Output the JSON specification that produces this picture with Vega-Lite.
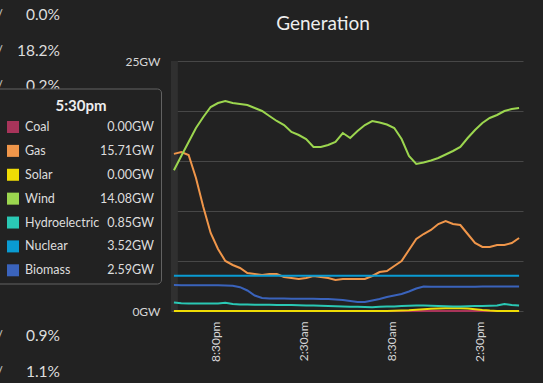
{
  "$schema": "https://vega.github.io/schema/vega-lite/v6.json",
  "width": 352,
  "height": 250,
  "autosize": {"type": "none"},
  "padding": {"left": 171, "top": 61, "right": 20, "bottom": 72},
  "background": "#222222",
  "config": {"view": {"stroke": null}, "font": "Lato", "text": {"font": "Lato"}},
  "datasets": {
    "gen": [
      {"t": "2024-01-01T17:30", "Coal": 0, "Gas": 15.71, "Solar": 0, "Wind": 14.08, "Hydroelectric": 0.85, "Nuclear": 3.52, "Biomass": 2.59},
      {"t": "2024-01-01T18:00", "Coal": 0, "Gas": 15.9, "Solar": 0, "Wind": 15.5, "Hydroelectric": 0.78, "Nuclear": 3.52, "Biomass": 2.58},
      {"t": "2024-01-01T18:30", "Coal": 0, "Gas": 15.6, "Solar": 0, "Wind": 16.9, "Hydroelectric": 0.75, "Nuclear": 3.52, "Biomass": 2.58},
      {"t": "2024-01-01T19:00", "Coal": 0, "Gas": 13.3, "Solar": 0, "Wind": 18.3, "Hydroelectric": 0.75, "Nuclear": 3.52, "Biomass": 2.58},
      {"t": "2024-01-01T19:30", "Coal": 0, "Gas": 10.4, "Solar": 0, "Wind": 19.4, "Hydroelectric": 0.75, "Nuclear": 3.52, "Biomass": 2.58},
      {"t": "2024-01-01T20:00", "Coal": 0, "Gas": 7.8, "Solar": 0, "Wind": 20.4, "Hydroelectric": 0.75, "Nuclear": 3.52, "Biomass": 2.57},
      {"t": "2024-01-01T20:30", "Coal": 0, "Gas": 6.2, "Solar": 0, "Wind": 20.8, "Hydroelectric": 0.76, "Nuclear": 3.52, "Biomass": 2.57},
      {"t": "2024-01-01T21:00", "Coal": 0, "Gas": 5.0, "Solar": 0, "Wind": 21.0, "Hydroelectric": 0.83, "Nuclear": 3.52, "Biomass": 2.56},
      {"t": "2024-01-01T21:30", "Coal": 0, "Gas": 4.6, "Solar": 0, "Wind": 20.8, "Hydroelectric": 0.7, "Nuclear": 3.52, "Biomass": 2.53},
      {"t": "2024-01-01T22:00", "Coal": 0, "Gas": 4.3, "Solar": 0, "Wind": 20.7, "Hydroelectric": 0.65, "Nuclear": 3.52, "Biomass": 2.38},
      {"t": "2024-01-01T22:30", "Coal": 0, "Gas": 3.8, "Solar": 0, "Wind": 20.6, "Hydroelectric": 0.65, "Nuclear": 3.52, "Biomass": 2.05},
      {"t": "2024-01-01T23:00", "Coal": 0, "Gas": 3.7, "Solar": 0, "Wind": 20.3, "Hydroelectric": 0.63, "Nuclear": 3.52, "Biomass": 1.55},
      {"t": "2024-01-01T23:30", "Coal": 0, "Gas": 3.6, "Solar": 0, "Wind": 20.0, "Hydroelectric": 0.62, "Nuclear": 3.52, "Biomass": 1.3},
      {"t": "2024-01-02T00:00", "Coal": 0, "Gas": 3.7, "Solar": 0, "Wind": 19.5, "Hydroelectric": 0.62, "Nuclear": 3.52, "Biomass": 1.25},
      {"t": "2024-01-02T00:30", "Coal": 0, "Gas": 3.7, "Solar": 0, "Wind": 19.0, "Hydroelectric": 0.6, "Nuclear": 3.52, "Biomass": 1.24},
      {"t": "2024-01-02T01:00", "Coal": 0, "Gas": 3.4, "Solar": 0, "Wind": 18.6, "Hydroelectric": 0.6, "Nuclear": 3.52, "Biomass": 1.24},
      {"t": "2024-01-02T01:30", "Coal": 0, "Gas": 3.3, "Solar": 0, "Wind": 17.9, "Hydroelectric": 0.6, "Nuclear": 3.52, "Biomass": 1.23},
      {"t": "2024-01-02T02:00", "Coal": 0, "Gas": 3.2, "Solar": 0, "Wind": 17.6, "Hydroelectric": 0.58, "Nuclear": 3.52, "Biomass": 1.23},
      {"t": "2024-01-02T02:30", "Coal": 0, "Gas": 3.3, "Solar": 0, "Wind": 17.2, "Hydroelectric": 0.55, "Nuclear": 3.52, "Biomass": 1.22},
      {"t": "2024-01-02T03:00", "Coal": 0, "Gas": 3.5, "Solar": 0, "Wind": 16.4, "Hydroelectric": 0.55, "Nuclear": 3.52, "Biomass": 1.22},
      {"t": "2024-01-02T03:30", "Coal": 0, "Gas": 3.4, "Solar": 0, "Wind": 16.4, "Hydroelectric": 0.52, "Nuclear": 3.52, "Biomass": 1.21},
      {"t": "2024-01-02T04:00", "Coal": 0, "Gas": 3.3, "Solar": 0, "Wind": 16.6, "Hydroelectric": 0.5, "Nuclear": 3.52, "Biomass": 1.2},
      {"t": "2024-01-02T04:30", "Coal": 0, "Gas": 3.1, "Solar": 0, "Wind": 16.9, "Hydroelectric": 0.48, "Nuclear": 3.52, "Biomass": 1.15},
      {"t": "2024-01-02T05:00", "Coal": 0, "Gas": 3.2, "Solar": 0, "Wind": 17.8, "Hydroelectric": 0.45, "Nuclear": 3.52, "Biomass": 1.1},
      {"t": "2024-01-02T05:30", "Coal": 0, "Gas": 3.2, "Solar": 0, "Wind": 17.3, "Hydroelectric": 0.43, "Nuclear": 3.52, "Biomass": 1.0},
      {"t": "2024-01-02T06:00", "Coal": 0, "Gas": 3.2, "Solar": 0, "Wind": 18.0, "Hydroelectric": 0.42, "Nuclear": 3.52, "Biomass": 0.9},
      {"t": "2024-01-02T06:30", "Coal": 0, "Gas": 3.2, "Solar": 0, "Wind": 18.6, "Hydroelectric": 0.4, "Nuclear": 3.52, "Biomass": 0.9},
      {"t": "2024-01-02T07:00", "Coal": 0, "Gas": 3.5, "Solar": 0, "Wind": 19.0, "Hydroelectric": 0.38, "Nuclear": 3.52, "Biomass": 1.05},
      {"t": "2024-01-02T07:30", "Coal": 0, "Gas": 3.9, "Solar": 0, "Wind": 18.85, "Hydroelectric": 0.42, "Nuclear": 3.52, "Biomass": 1.2},
      {"t": "2024-01-02T08:00", "Coal": 0, "Gas": 4.0, "Solar": 0, "Wind": 18.65, "Hydroelectric": 0.45, "Nuclear": 3.52, "Biomass": 1.4},
      {"t": "2024-01-02T08:30", "Coal": 0, "Gas": 4.5, "Solar": 0.02, "Wind": 18.3, "Hydroelectric": 0.45, "Nuclear": 3.52, "Biomass": 1.55},
      {"t": "2024-01-02T09:00", "Coal": 0, "Gas": 5.0, "Solar": 0.05, "Wind": 17.2, "Hydroelectric": 0.5, "Nuclear": 3.52, "Biomass": 1.7},
      {"t": "2024-01-02T09:30", "Coal": 0, "Gas": 6.1, "Solar": 0.08, "Wind": 15.5, "Hydroelectric": 0.52, "Nuclear": 3.52, "Biomass": 1.95},
      {"t": "2024-01-02T10:00", "Coal": 0, "Gas": 7.2, "Solar": 0.13, "Wind": 14.7, "Hydroelectric": 0.55, "Nuclear": 3.52, "Biomass": 2.25},
      {"t": "2024-01-02T10:30", "Coal": 0, "Gas": 7.7, "Solar": 0.18, "Wind": 14.85, "Hydroelectric": 0.55, "Nuclear": 3.52, "Biomass": 2.45},
      {"t": "2024-01-02T11:00", "Coal": 0, "Gas": 8.1, "Solar": 0.22, "Wind": 15.05, "Hydroelectric": 0.52, "Nuclear": 3.52, "Biomass": 2.42},
      {"t": "2024-01-02T11:30", "Coal": 0, "Gas": 8.7, "Solar": 0.25, "Wind": 15.3, "Hydroelectric": 0.5, "Nuclear": 3.52, "Biomass": 2.42},
      {"t": "2024-01-02T12:00", "Coal": 0, "Gas": 9.0, "Solar": 0.27, "Wind": 15.65, "Hydroelectric": 0.48, "Nuclear": 3.52, "Biomass": 2.42},
      {"t": "2024-01-02T12:30", "Coal": 0, "Gas": 8.7, "Solar": 0.28, "Wind": 16.0, "Hydroelectric": 0.45, "Nuclear": 3.52, "Biomass": 2.42},
      {"t": "2024-01-02T13:00", "Coal": 0, "Gas": 8.6, "Solar": 0.27, "Wind": 16.4, "Hydroelectric": 0.45, "Nuclear": 3.52, "Biomass": 2.42},
      {"t": "2024-01-02T13:30", "Coal": 0, "Gas": 7.7, "Solar": 0.24, "Wind": 17.3, "Hydroelectric": 0.48, "Nuclear": 3.52, "Biomass": 2.42},
      {"t": "2024-01-02T14:00", "Coal": 0, "Gas": 6.8, "Solar": 0.18, "Wind": 18.1, "Hydroelectric": 0.5, "Nuclear": 3.52, "Biomass": 2.42},
      {"t": "2024-01-02T14:30", "Coal": 0, "Gas": 6.4, "Solar": 0.1, "Wind": 18.8, "Hydroelectric": 0.5, "Nuclear": 3.52, "Biomass": 2.45},
      {"t": "2024-01-02T15:00", "Coal": 0, "Gas": 6.4, "Solar": 0.04, "Wind": 19.3, "Hydroelectric": 0.52, "Nuclear": 3.52, "Biomass": 2.45},
      {"t": "2024-01-02T15:30", "Coal": 0, "Gas": 6.6, "Solar": 0.01, "Wind": 19.6, "Hydroelectric": 0.55, "Nuclear": 3.52, "Biomass": 2.45},
      {"t": "2024-01-02T16:00", "Coal": 0, "Gas": 6.6, "Solar": 0, "Wind": 20.0, "Hydroelectric": 0.7, "Nuclear": 3.52, "Biomass": 2.45},
      {"t": "2024-01-02T16:30", "Coal": 0, "Gas": 6.8, "Solar": 0, "Wind": 20.2, "Hydroelectric": 0.6, "Nuclear": 3.52, "Biomass": 2.45},
      {"t": "2024-01-02T17:00", "Coal": 0, "Gas": 7.3, "Solar": 0, "Wind": 20.3, "Hydroelectric": 0.55, "Nuclear": 3.52, "Biomass": 2.45}
    ],
    "tip": [
      {"source": "Coal", "row": 0, "val": "0.00GW"},
      {"source": "Gas", "row": 1, "val": "15.71GW"},
      {"source": "Solar", "row": 2, "val": "0.00GW"},
      {"source": "Wind", "row": 3, "val": "14.08GW"},
      {"source": "Hydroelectric", "row": 4, "val": "0.85GW"},
      {"source": "Nuclear", "row": 5, "val": "3.52GW"},
      {"source": "Biomass", "row": 6, "val": "2.59GW"}
    ],
    "pct": [
      {"row": 0, "pct": "0.0%"},
      {"row": 1, "pct": "18.2%"},
      {"row": 2, "pct": "0.2%"},
      {"row": 9, "pct": "0.9%"},
      {"row": 10, "pct": "1.1%"}
    ]
  },
  "layer": [
    {
      "layer": [
        {
          "data": {"values": [{}]},
          "mark": {"type": "rect", "color": "#303030"},
          "encoding": {
            "x": {"datum": {"year": 2024, "month": 1, "date": 1, "hours": 17, "minutes": 18}, "type": "temporal",
              "scale": {"domain": [{"year": 2024, "month": 1, "date": 1, "hours": 17, "minutes": 18}, {"year": 2024, "month": 1, "date": 2, "hours": 17, "minutes": 16}], "nice": false},
              "axis": {"values": [{"year": 2024, "month": 1, "date": 1, "hours": 20, "minutes": 30}, {"year": 2024, "month": 1, "date": 2, "hours": 2, "minutes": 30}, {"year": 2024, "month": 1, "date": 2, "hours": 8, "minutes": 30}, {"year": 2024, "month": 1, "date": 2, "hours": 14, "minutes": 30}], "labelExpr": "lower(timeFormat(datum.value, '%-I:%M%p'))", "labelAngle": -90, "labelFontSize": 12, "labelColor": "#d6d6d6", "labelFont": "Lato", "labelPadding": 10, "labelOffset": -2.5, "ticks": false, "tickSize": 0, "domain": false, "grid": false, "title": null}},
            "x2": {"datum": {"year": 2024, "month": 1, "date": 1, "hours": 17, "minutes": 46}}
          }
        },
        {
          "data": {"name": "gen"},
          "transform": [{"fold": ["Coal", "Gas", "Solar", "Wind", "Hydroelectric", "Nuclear", "Biomass"], "as": ["source", "gw"]}],
          "mark": {"type": "line", "strokeWidth": 2},
          "encoding": {
            "x": {"field": "t", "type": "temporal",
              "scale": {"domain": [{"year": 2024, "month": 1, "date": 1, "hours": 17, "minutes": 18}, {"year": 2024, "month": 1, "date": 2, "hours": 17, "minutes": 16}], "nice": false},
              "axis": {"values": [{"year": 2024, "month": 1, "date": 1, "hours": 20, "minutes": 30}, {"year": 2024, "month": 1, "date": 2, "hours": 2, "minutes": 30}, {"year": 2024, "month": 1, "date": 2, "hours": 8, "minutes": 30}, {"year": 2024, "month": 1, "date": 2, "hours": 14, "minutes": 30}], "labelExpr": "lower(timeFormat(datum.value, '%-I:%M%p'))", "labelAngle": -90, "labelFontSize": 12, "labelColor": "#d6d6d6", "labelFont": "Lato", "labelPadding": 10, "labelOffset": -2.5, "ticks": false, "tickSize": 0, "domain": false, "grid": false, "title": null}},
            "y": {"field": "gw", "type": "quantitative",
              "scale": {"domain": [0, 25], "nice": false},
              "axis": {"values": [0, 5, 10, 15, 20, 25], "labelExpr": "datum.value==0||datum.value==25 ? datum.value+'GW' : ''", "grid": true, "gridColor": "#474747", "gridWidth": 1, "domain": false, "ticks": false, "tickSize": 0, "labelPadding": 11, "labelFontSize": 12, "labelColor": "#d6d6d6", "labelFont": "Lato", "title": null}},
            "color": {"field": "source", "type": "nominal",
              "scale": {"domain": ["Coal", "Gas", "Solar", "Wind", "Hydroelectric", "Nuclear", "Biomass"], "range": ["#a8345a", "#f0964a", "#efdc05", "#9cd64f", "#2ac8b4", "#0a9bd2", "#3a63bc"]},
              "legend": null}
          }
        }
      ]
    },
    {
      "layer": [
        {
          "data": {"name": "pct"},
          "mark": {"type": "text", "align": "right", "baseline": "middle", "fontSize": 15.5, "color": "#dddddd", "font": "Lato"},
          "encoding": {
            "x": {"datum": 60, "type": "quantitative", "scale": {"domain": [171, 523], "nice": false, "zero": false},
              "axis": {"orient": "top", "labels": false, "ticks": false, "tickSize": 0, "domain": false, "grid": false, "title": "Generation", "titleFontSize": 19, "titleFontWeight": "normal", "titleColor": "#eeeeee", "titleFont": "Lato", "titlePadding": 28, "titleX": 151.5, "titleAlign": "center"}},
            "y": {"field": "row", "type": "quantitative", "scale": {"domain": [0, 10], "range": [-46, 311], "nice": false, "zero": false}, "axis": null},
            "text": {"field": "pct"}
          }
        },
        {
          "data": {"name": "pct"},
          "mark": {"type": "text", "align": "right", "baseline": "middle", "fontSize": 15, "color": "#bbbbbb", "font": "Lato"},
          "encoding": {
            "x": {"datum": 3, "type": "quantitative", "scale": {"domain": [171, 523], "nice": false, "zero": false},
              "axis": {"orient": "top", "labels": false, "ticks": false, "tickSize": 0, "domain": false, "grid": false, "title": "Generation", "titleFontSize": 19, "titleFontWeight": "normal", "titleColor": "#eeeeee", "titleFont": "Lato", "titlePadding": 28, "titleX": 151.5, "titleAlign": "center"}},
            "y": {"field": "row", "type": "quantitative", "scale": {"domain": [0, 10], "range": [-46, 311], "nice": false, "zero": false}, "axis": null},
            "text": {"value": "/"}
          }
        },
        {
          "data": {"values": [{}]},
          "mark": {"type": "rect", "fill": "#222222", "stroke": "#626262", "strokeWidth": 1, "cornerRadius": 4},
          "encoding": {
            "x": {"datum": -10, "type": "quantitative", "scale": {"domain": [171, 523], "nice": false, "zero": false},
              "axis": {"orient": "top", "labels": false, "ticks": false, "tickSize": 0, "domain": false, "grid": false, "title": "Generation", "titleFontSize": 19, "titleFontWeight": "normal", "titleColor": "#eeeeee", "titleFont": "Lato", "titlePadding": 28, "titleX": 151.5, "titleAlign": "center"}},
            "x2": {"datum": 161.5},
            "y": {"datum": 89, "type": "quantitative", "scale": {"domain": [61, 311], "range": [0, 250], "nice": false, "zero": false}, "axis": null},
            "y2": {"datum": 284}
          }
        },
        {
          "data": {"values": [{}]},
          "mark": {"type": "text", "align": "center", "baseline": "middle", "fontSize": 15, "fontWeight": "bold", "color": "#eeeeee", "font": "Lato"},
          "encoding": {
            "x": {"datum": 81, "type": "quantitative", "scale": {"domain": [171, 523], "nice": false, "zero": false},
              "axis": {"orient": "top", "labels": false, "ticks": false, "tickSize": 0, "domain": false, "grid": false, "title": "Generation", "titleFontSize": 19, "titleFontWeight": "normal", "titleColor": "#eeeeee", "titleFont": "Lato", "titlePadding": 28, "titleX": 151.5, "titleAlign": "center"}},
            "y": {"datum": 106, "type": "quantitative", "scale": {"domain": [61, 311], "range": [0, 250], "nice": false, "zero": false}, "axis": null},
            "text": {"value": "5:30pm"}
          }
        },
        {
          "data": {"name": "tip"},
          "mark": {"type": "square", "size": 144, "opacity": 1, "filled": true},
          "encoding": {
            "x": {"datum": 13, "type": "quantitative", "scale": {"domain": [171, 523], "nice": false, "zero": false},
              "axis": {"orient": "top", "labels": false, "ticks": false, "tickSize": 0, "domain": false, "grid": false, "title": "Generation", "titleFontSize": 19, "titleFontWeight": "normal", "titleColor": "#eeeeee", "titleFont": "Lato", "titlePadding": 28, "titleX": 151.5, "titleAlign": "center"}},
            "y": {"field": "row", "type": "quantitative", "scale": {"domain": [0, 6], "range": [66, 209.3], "nice": false, "zero": false}, "axis": null},
            "color": {"field": "source", "type": "nominal",
              "scale": {"domain": ["Coal", "Gas", "Solar", "Wind", "Hydroelectric", "Nuclear", "Biomass"], "range": ["#a8345a", "#f0964a", "#efdc05", "#9cd64f", "#2ac8b4", "#0a9bd2", "#3a63bc"]},
              "legend": null}
          }
        },
        {
          "data": {"name": "tip"},
          "mark": {"type": "text", "align": "left", "baseline": "middle", "fontSize": 12.5, "color": "#dddddd", "font": "Lato"},
          "encoding": {
            "x": {"datum": 25, "type": "quantitative", "scale": {"domain": [171, 523], "nice": false, "zero": false},
              "axis": {"orient": "top", "labels": false, "ticks": false, "tickSize": 0, "domain": false, "grid": false, "title": "Generation", "titleFontSize": 19, "titleFontWeight": "normal", "titleColor": "#eeeeee", "titleFont": "Lato", "titlePadding": 28, "titleX": 151.5, "titleAlign": "center"}},
            "y": {"field": "row", "type": "quantitative", "scale": {"domain": [0, 6], "range": [66, 209.3], "nice": false, "zero": false}, "axis": null},
            "text": {"field": "source"}
          }
        },
        {
          "data": {"name": "tip"},
          "mark": {"type": "text", "align": "right", "baseline": "middle", "fontSize": 12.5, "color": "#dddddd", "font": "Lato"},
          "encoding": {
            "x": {"datum": 154, "type": "quantitative", "scale": {"domain": [171, 523], "nice": false, "zero": false},
              "axis": {"orient": "top", "labels": false, "ticks": false, "tickSize": 0, "domain": false, "grid": false, "title": "Generation", "titleFontSize": 19, "titleFontWeight": "normal", "titleColor": "#eeeeee", "titleFont": "Lato", "titlePadding": 28, "titleX": 151.5, "titleAlign": "center"}},
            "y": {"field": "row", "type": "quantitative", "scale": {"domain": [0, 6], "range": [66, 209.3], "nice": false, "zero": false}, "axis": null},
            "text": {"field": "val"}
          }
        }
      ],
      "resolve": {"scale": {"y": "independent"}}
    }
  ],
  "resolve": {"scale": {"x": "independent", "y": "independent"}}
}
